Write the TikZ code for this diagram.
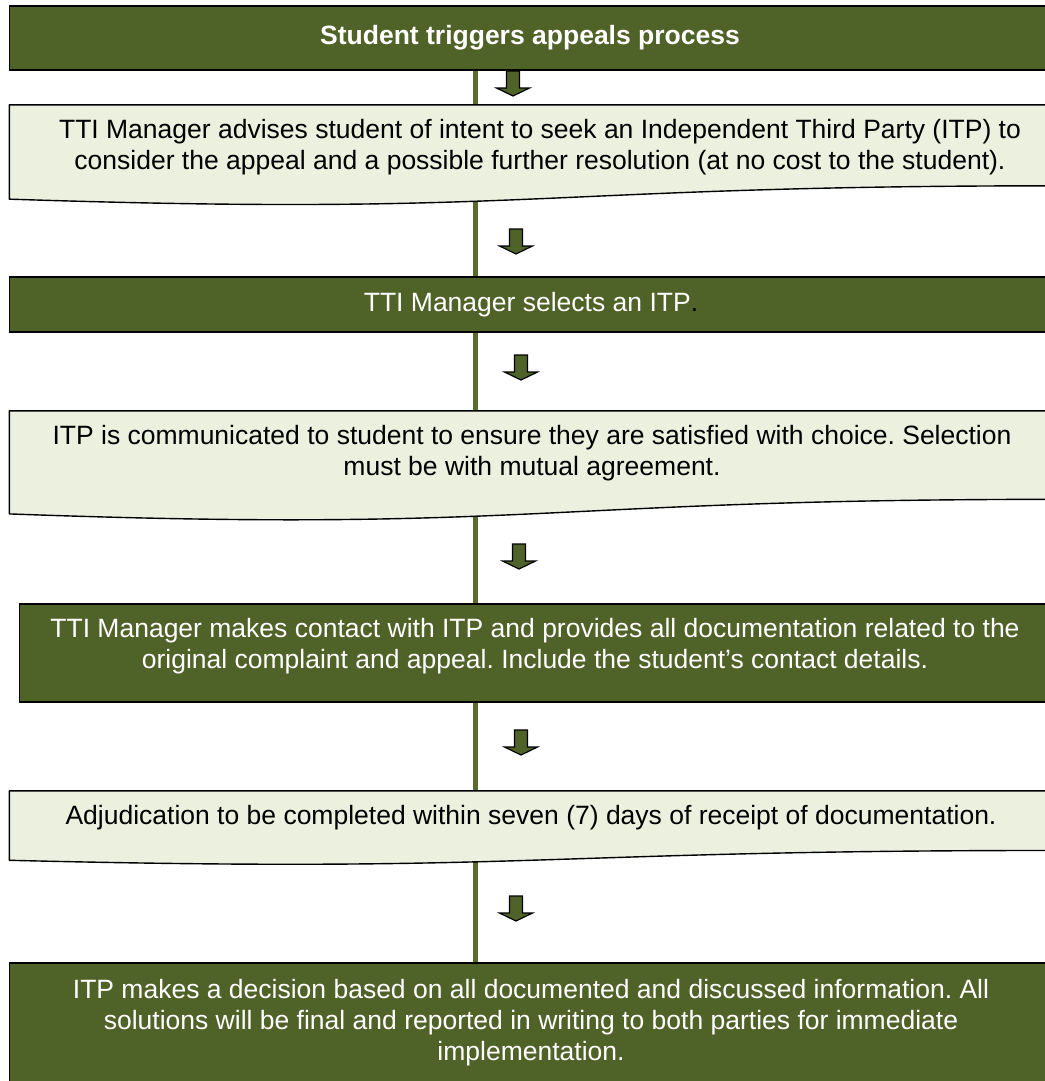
\documentclass[tikz,border=0pt]{standalone}
\usepackage{fontspec}
\setmainfont{Liberation Sans}
\frenchspacing
\usetikzlibrary{calc,backgrounds}
\definecolor{olivedark}{HTML}{4F6228}
\definecolor{olivelight}{HTML}{EBF1DE}
\definecolor{spinecol}{HTML}{566B2C}
\tikzset{
  darkbox/.style={rectangle, fill=olivedark, draw=black, line width=1.4pt, inner sep=0pt},
  frame/.style={rectangle, inner sep=0pt, draw=none},
  doc/.style={fill=olivelight, draw=black, line width=1.4pt, line join=round},
  wtxt/.style={text=white, align=center, inner sep=0pt, font=\fontsize{26.5}{31}\selectfont},
  btxt/.style={text=black, align=center, inner sep=0pt, font=\fontsize{26.5}{31}\selectfont},
  arrowfill/.style={fill=olivedark, draw=black, line width=1.2pt, line join=miter},
  spine/.style={draw=spinecol, line width=5pt},
  downarr/.pic={\path[arrowfill] (-6.5,0) -- (6.5,0) -- (6.5,17) -- (16.5,17) -- (0,25) -- (-16.5,17) -- (-6.5,17) -- cycle;}
}
\begin{document}
\begin{tikzpicture}[x=1pt,y=-1pt]
\useasboundingbox (0,0) rectangle (1044,1081);
\coordinate (sp) at (475,0);

% boxes
\node[darkbox, minimum width=1045.5pt, minimum height=64pt] (b1) at (532.25,38) {};
\node[frame, minimum width=1045.5pt, minimum height=100.6pt] (b2) at (532.25,155.3) {};
\node[darkbox, minimum width=1045.5pt, minimum height=55pt] (b3) at (532.25,304.5) {};
\node[frame, minimum width=1045.5pt, minimum height=110pt] (b4) at (532.25,466) {};
\node[darkbox, minimum width=1040.5pt, minimum height=98pt] (b5) at (539.75,653) {};
\node[frame, minimum width=1045.5pt, minimum height=74pt] (b6) at (532.25,828) {};
\node[darkbox, minimum width=1045.5pt, minimum height=122pt] (b7) at (532.25,1024) {};

% document shapes
\foreach \b in {b2,b4,b6}{
  \path[doc] (\b.north west) -- (\b.north east)
    -- ($(\b.north east)!0.802!(\b.south east)$)
    .. controls ($(\b.north)!0.802!(\b.south)$) and ($(\b.north)!1.1075!(\b.south)$)
    .. ($(\b.north west)!0.934!(\b.south west)$) -- cycle;
}

% background and spine connector
\begin{scope}[on background layer]
  \fill[white] (0,0) rectangle (1044,1081);
  \draw[spine] (b1.south -| sp) -- (b7.north -| sp);
\end{scope}

% texts
\node[wtxt, font=\fontsize{26.5}{31}\selectfont\bfseries] (t1) at (530,38) {Student triggers appeals process};
\node[btxt] (t2) at (540,147.5) {TTI Manager advises student of intent to seek an Independent Third Party (ITP) to\\consider the appeal and a possible further resolution (at no cost to the student).};
\node[wtxt] (t3) at (531,304.5) {TTI Manager selects an ITP\textcolor{black}{.}};
\node[btxt] (t4) at (532,453.5) {ITP is communicated to student to ensure they are satisfied with choice. Selection\\must be with mutual agreement.};
\node[wtxt] (t5) at (535,646) {TTI Manager makes contact with ITP and provides all documentation related to the\\original complaint and appeal. Include the student’s contact details.};
\node[btxt] (t6) at (531,818) {Adjudication to be completed within seven (7) days of receipt of documentation.};
\node[wtxt] (t7) at (531,1022.5) {ITP makes a decision based on all documented and discussed information. All\\solutions will be final and reported in writing to both parties for immediate\\implementation.};

% arrows
\pic (a1) at (513,71) {downarr};
\pic (a2) at (516,229) {downarr};
\pic (a3) at (521,355) {downarr};
\pic (a4) at (519,544) {downarr};
\pic (a5) at (521,730) {downarr};
\pic (a6) at (516,896) {downarr};
\end{tikzpicture}
\end{document}
